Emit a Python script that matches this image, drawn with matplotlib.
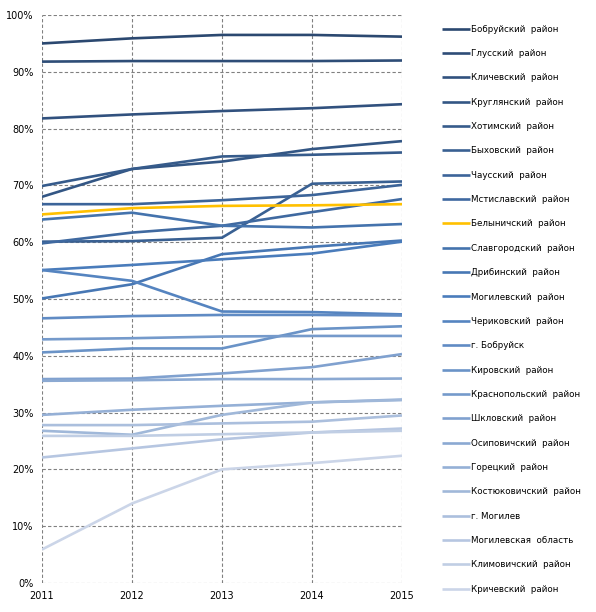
import numpy as np
import matplotlib
matplotlib.use('Agg')
import matplotlib.pyplot as plt
from matplotlib.colors import to_rgb
from matplotlib.ticker import PercentFormatter

years = [2011, 2012, 2013, 2014, 2015]

names = ['Бобруйский  район', 'Глусский  район', 'Кличевский  район', 'Круглянский  район',
         'Хотимский  район', 'Быховский  район', 'Чаусский  район', 'Мстиславский  район',
         'Белыничский  район', 'Славгородский  район', 'Дрибинский  район', 'Могилевский  район',
         'Чериковский  район', 'г. Бобруйск', 'Кировский  район', 'Краснопольский  район',
         'Шкловский  район', 'Осиповичский  район', 'Горецкий  район', 'Костюковичский  район',
         'г. Могилев', 'Могилевская  область', 'Климовичский  район', 'Кричевский  район']

bobruisk_r = [95.0, 95.9, 96.5, 96.5, 96.2]
glussk = [91.8, 91.9, 91.9, 91.9, 92.0]
klichev = [81.8, 82.5, 83.1, 83.6, 84.3]
krugloe = [68.0, 72.9, 74.2, 76.4, 77.8]
khotimsk = [69.9, 72.9, 75.1, 75.4, 75.8]
bykhov = [60.1, 60.2, 60.8, 70.3, 70.7]
chausy = [66.7, 66.7, 67.4, 68.3, 70.1]
mstislavl = [59.8, 61.7, 62.9, 65.3, 67.6]
belynichi = [64.9, 66.0, 66.4, 66.5, 66.7]
slavgorod = [64.0, 65.2, 62.9, 62.6, 63.2]
dribin = [50.1, 52.6, 57.9, 59.2, 60.3]
mogilev_r = [55.1, 56.0, 57.0, 58.0, 60.1]
cherikov = [55.1, 53.2, 47.8, 47.7, 47.3]
bobruisk_c = [46.6, 47.0, 47.2, 47.2, 47.1]
kirovsk = [40.6, 41.3, 41.3, 44.7, 45.2]
krasnopolye = [42.9, 43.1, 43.4, 43.5, 43.5]
shklov = [35.9, 36.0, 36.9, 38.0, 40.3]
osipovichi = [35.6, 35.7, 35.9, 35.9, 36.0]
gorki = [29.6, 30.5, 31.2, 31.8, 32.3]
kostyukovichi = [26.8, 26.1, 29.6, 31.8, 32.2]
mogilev_c = [27.8, 27.8, 28.1, 28.4, 29.5]
oblast = [22.1, 23.7, 25.3, 26.5, 27.2]
klimovichi = [25.9, 25.9, 26.2, 26.5, 26.8]
krichev = [5.9, 14.0, 20.0, 21.1, 22.4]

series = [bobruisk_r, glussk, klichev, krugloe, khotimsk, bykhov, chausy, mstislavl,
          belynichi, slavgorod, dribin, mogilev_r, cherikov, bobruisk_c, kirovsk, krasnopolye,
          shklov, osipovichi, gorki, kostyukovichi, mogilev_c, oblast, klimovichi, krichev]


def blend(c1, c2, t):
    a, b = np.array(to_rgb(c1)), np.array(to_rgb(c2))
    return tuple(a + (b - a) * t)


n = len(series)
colors = []
for i in range(n):
    if i < 12:
        colors.append(blend('#2b4870', '#4a7cbb', i / 11))
    else:
        colors.append(blend('#5584c0', '#cbd5e8', (i - 12) / 11))
colors[8] = '#ffc000'

fig = plt.figure(figsize=(5.96, 6.12), dpi=100)
ax = fig.add_axes([0.0705, 0.0474, 0.604, 0.928])

for vals, name, c in zip(series, names, colors):
    ax.plot(years, vals, color=c, lw=1.9, label=name, solid_capstyle='butt')

ax.set_xlim(2011, 2015)
ax.set_ylim(0, 100)
ax.set_xticks(years)
ax.set_yticks(range(0, 101, 10))
ax.yaxis.set_major_formatter(PercentFormatter(decimals=0))
ax.grid(True, color='#808080', linestyle=(0, (3, 2)), linewidth=0.8)
ax.set_axisbelow(True)
for s in ax.spines.values():
    s.set_visible(False)
ax.tick_params(length=0, labelsize=7, pad=6, colors='black')

fig.legend(loc='upper left', bbox_to_anchor=(0.7365, 0.9655), frameon=False,
           fontsize=6.3, handlelength=3.2, handletextpad=0.1, labelspacing=1.755,
           borderaxespad=0)

fig.savefig('out.png', dpi=100)
